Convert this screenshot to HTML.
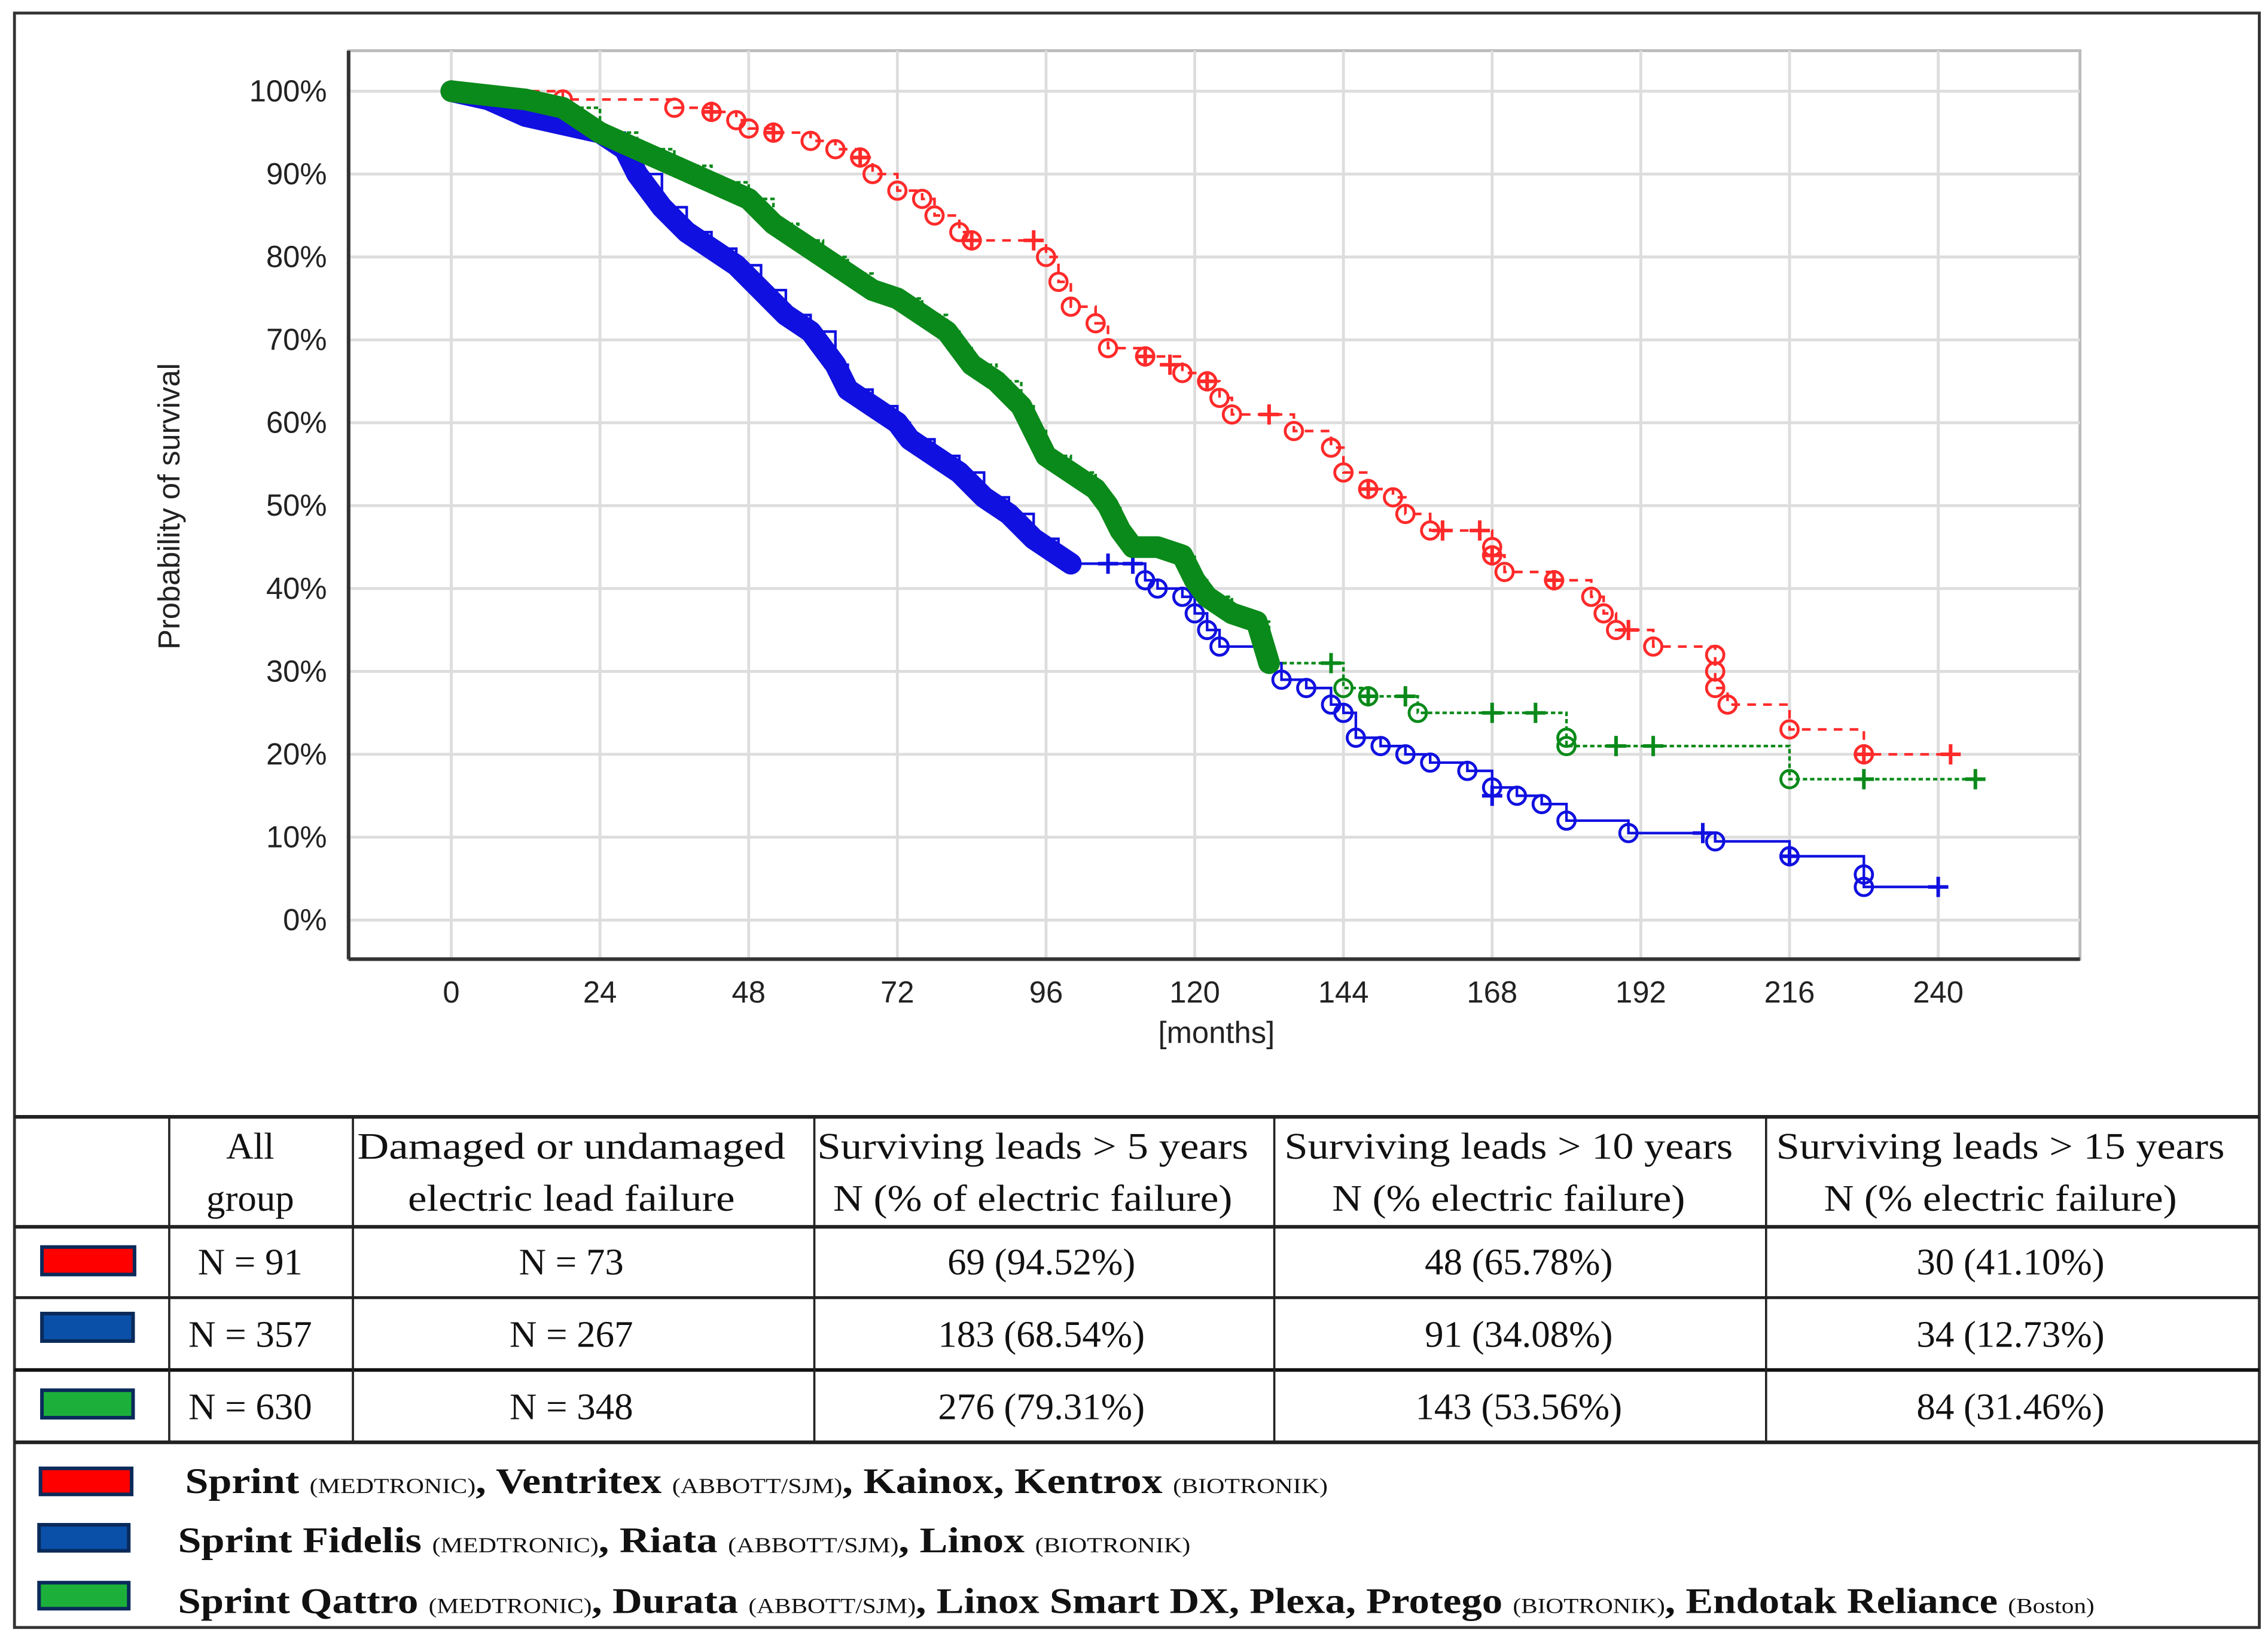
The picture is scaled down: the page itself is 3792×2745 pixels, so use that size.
<!DOCTYPE html>
<html><head><meta charset="utf-8"><style>
html,body{margin:0;padding:0;background:#fff;}
svg{display:block;}
.ax{font-family:"Liberation Sans",sans-serif;fill:#222;}
.tb{font-family:"Liberation Serif",serif;fill:#111;}
</style></head><body>
<svg id="fig" width="3792" height="2745" viewBox="0 0 1568 1135" xmlns="http://www.w3.org/2000/svg">
<rect x="0" y="0" width="1568" height="1135" fill="#fff"/>
<rect x="10" y="9" width="1552" height="1116" fill="none" stroke="#333" stroke-width="2"/>
<g id="grid"></g>
<g id="series"></g>
<g id="axes"></g>
<text class="ax" transform="translate(124,350) rotate(-90)" text-anchor="middle" font-size="21" textLength="198" lengthAdjust="spacingAndGlyphs">Probability of survival</text>
<text class="ax" x="841" y="721" text-anchor="middle" font-size="21">[months]</text>

<g>
<line x1="10" y1="772" x2="1562" y2="772" stroke="#222" stroke-width="2.5"/>
<line x1="10" y1="848" x2="1562" y2="848" stroke="#222" stroke-width="2.5"/>
<line x1="10" y1="897" x2="1562" y2="897" stroke="#222" stroke-width="2"/>
<line x1="10" y1="947" x2="1562" y2="947" stroke="#111" stroke-width="2.5"/>
<line x1="10" y1="997" x2="1562" y2="997" stroke="#222" stroke-width="2.5"/>
<line x1="117" y1="772" x2="117" y2="997" stroke="#222" stroke-width="1.5"/>
<line x1="244" y1="772" x2="244" y2="997" stroke="#222" stroke-width="1.5"/>
<line x1="563" y1="772" x2="563" y2="997" stroke="#222" stroke-width="1.5"/>
<line x1="881" y1="772" x2="881" y2="997" stroke="#222" stroke-width="1.5"/>
<line x1="1221" y1="772" x2="1221" y2="997" stroke="#222" stroke-width="1.5"/>
<g class="tb" font-size="26" text-anchor="middle">
<text x="173" y="801">All</text><text x="173" y="837">group</text>
<text x="395" y="801" textLength="296" lengthAdjust="spacingAndGlyphs">Damaged or undamaged</text><text x="395" y="837" textLength="226" lengthAdjust="spacingAndGlyphs">electric lead failure</text>
<text x="714" y="801" textLength="298" lengthAdjust="spacingAndGlyphs">Surviving leads &gt; 5 years</text><text x="714" y="837" textLength="276" lengthAdjust="spacingAndGlyphs">N (% of electric failure)</text>
<text x="1043" y="801" textLength="310" lengthAdjust="spacingAndGlyphs">Surviving leads &gt; 10 years</text><text x="1043" y="837" textLength="244" lengthAdjust="spacingAndGlyphs">N (% electric failure)</text>
<text x="1383" y="801" textLength="310" lengthAdjust="spacingAndGlyphs">Surviving leads &gt; 15 years</text><text x="1383" y="837" textLength="244" lengthAdjust="spacingAndGlyphs">N (% electric failure)</text>
<text x="173" y="881">N = 91</text><text x="395" y="881">N = 73</text><text x="720" y="881">69 (94.52%)</text><text x="1050" y="881">48 (65.78%)</text><text x="1390" y="881">30 (41.10%)</text>
<text x="173" y="931">N = 357</text><text x="395" y="931">N = 267</text><text x="720" y="931">183 (68.54%)</text><text x="1050" y="931">91 (34.08%)</text><text x="1390" y="931">34 (12.73%)</text>
<text x="173" y="981">N = 630</text><text x="395" y="981">N = 348</text><text x="720" y="981">276 (79.31%)</text><text x="1050" y="981">143 (53.56%)</text><text x="1390" y="981">84 (31.46%)</text>
</g>
<rect x="29" y="862" width="64" height="19" fill="#f00" stroke="#0a2a5a" stroke-width="2.5"/>
<rect x="29" y="908" width="63" height="19" fill="#0a50a8" stroke="#0a2a5a" stroke-width="2.5"/>
<rect x="29" y="961" width="63" height="19" fill="#1cb03a" stroke="#0a2a5a" stroke-width="2.5"/>
</g>

<g class="tb">
<rect x="28" y="1015" width="63" height="18" fill="#f00" stroke="#0a2a5a" stroke-width="2.5"/>
<rect x="27" y="1054" width="62" height="18" fill="#0a50a8" stroke="#0a2a5a" stroke-width="2.5"/>
<rect x="27" y="1094" width="62" height="18" fill="#1cb03a" stroke="#0a2a5a" stroke-width="2.5"/>
<text x="128" y="1032" font-size="25" font-weight="bold" textLength="790" lengthAdjust="spacingAndGlyphs">Sprint <tspan font-size="15" font-weight="normal">(MEDTRONIC)</tspan>, Ventritex <tspan font-size="15" font-weight="normal">(ABBOTT/SJM)</tspan>, Kainox, Kentrox <tspan font-size="15" font-weight="normal">(BIOTRONIK)</tspan></text>
<text x="123" y="1073" font-size="25" font-weight="bold" textLength="700" lengthAdjust="spacingAndGlyphs">Sprint Fidelis <tspan font-size="15" font-weight="normal">(MEDTRONIC)</tspan>, Riata <tspan font-size="15" font-weight="normal">(ABBOTT/SJM)</tspan>, Linox <tspan font-size="15" font-weight="normal">(BIOTRONIK)</tspan></text>
<text x="123" y="1115" font-size="25" font-weight="bold" textLength="1325" lengthAdjust="spacingAndGlyphs">Sprint Qattro <tspan font-size="15" font-weight="normal">(MEDTRONIC)</tspan>, Durata <tspan font-size="15" font-weight="normal">(ABBOTT/SJM)</tspan>, Linox Smart DX, Plexa, Protego <tspan font-size="15" font-weight="normal">(BIOTRONIK)</tspan>, Endotak Reliance <tspan font-size="15" font-weight="normal">(Boston)</tspan></text>
</g>
</svg>
<script>
const xTicks=[0,24,48,72,96,120,144,168,192,216,240];
const yTicks=[0,10,20,30,40,50,60,70,80,90,100];
const blueT=[0,6,12,18,24,28,30,34,38,42,46,50,54,58,62,64,68,72,74,78,82,86,90,94,98,100,110,112,114,118,120,122,124,128,132,134,138,142,144,146,150,154,158,164,168,172,176,180,190,204,216,228,228,240];
const blueS=[100,99,97,96,95,93,90,86,83,81,79,76,73,71,67,64,62,60,58,56,54,51,49,46,44,43,43,41,40,39,37,35,33,33,31,29,28,26,25,22,21,20,19,18,16,15,14,12,10.5,9.5,7.7,5.5,4,4];
const blueCensT=[106,110,168,202,216,240];
const blueCensS=[43,43,15,10.5,7.7,4];
const greenT=[0,12,18,24,30,36,42,48,52,56,60,64,68,72,76,80,82,84,88,92,94,96,100,104,106,108,110,114,118,120,122,126,130,132,142,144,148,156,156,168,176,180,180,216,216,246];
const greenS=[100,99,98,95,93,91,89,87,84,82,80,78,76,75,73,71,69,67,65,62,59,56,54,52,50,47,45,45,44,41,39,37,36,31,31,28,27,27,25,25,25,22,21,21,17,17];
const greenCensT=[142,148,154,168,175,188,194,228,246];
const greenCensS=[31,27,27,25,25,21,21,17,17];
const redT=[0,18,30,36,42,46,48,52,58,62,66,68,72,76,78,82,84,94,96,98,100,104,106,112,118,122,124,126,132,136,142,144,148,152,154,158,166,168,168,170,178,184,186,188,192,194,204,204,204,206,216,216,228,242];
const redS=[100,99,99,98,97.5,96.5,95.5,95,94,93,92,90,88,87,85,83,82,82,80,77,74,72,69,68,66,65,63,61,61,59,57,54,52,51,49,47,47,45,44,42,41,39,37,35,35,33,32,30,28,26,26,23,20,20];
const redCensT=[42,52,66,84,94,112,116,122,132,148,160,166,168,178,190,228,242];
const redCensS=[97.5,95,92,82,82,68,67,65,61,52,47,47,44,41,35,20,20];
const denseEndBlue=100, denseEndGreen=132;

const X0=312,X1=1340,Y0=636,Y1=63,L=241,R=1438,T=35,B=663;
const xs=t=>X0+(X1-X0)*t/240;
const ys=s=>Y0-(Y0-Y1)*s/100;
const NS='http://www.w3.org/2000/svg';
function mk(tag,attrs,parent){const e=document.createElementNS(NS,tag);for(const k in attrs)e.setAttribute(k,attrs[k]);parent.appendChild(e);return e;}
const grid=document.getElementById('grid'),axes=document.getElementById('axes'),ser=document.getElementById('series');
mk('rect',{x:L,y:T,width:R-L,height:B-T,fill:'none',stroke:'#bbb','stroke-width':2},grid);
xTicks.forEach(t=>{const g=mk('line',{x1:xs(t),x2:xs(t),y1:T,y2:B,stroke:'#ddd','stroke-width':2},grid);

const tx=mk('text',{x:xs(t),y:B+30,'text-anchor':'middle','font-size':21,class:'ax'},axes);tx.textContent=t;
});
yTicks.forEach(v=>{const g=mk('line',{x1:L,x2:R,y1:ys(v),y2:ys(v),stroke:'#ddd','stroke-width':2},grid);

const tx=mk('text',{x:226,y:ys(v)+7,'text-anchor':'end','font-size':21,class:'ax'},axes);tx.textContent=v+'%';
});
mk('line',{x1:L,x2:L,y1:T,y2:B,stroke:'#333','stroke-width':2.5},axes);
mk('line',{x1:L,x2:R,y1:B,y2:B,stroke:'#333','stroke-width':2.5},axes);

function stepPath(T_,S_){let d='M'+xs(T_[0])+','+ys(S_[0]);
for(let i=1;i<T_.length;i++){d+=' H'+xs(T_[i])+' V'+ys(S_[i]);}return d;}
function linePath(T_,S_,end){let d='M'+xs(T_[0])+','+ys(S_[0]);
for(let i=1;i<T_.length;i++){if(T_[i]>end)break;d+=' L'+xs(T_[i])+','+ys(S_[i]);}return d;}
function series(name,T_,S_,CT,CS,color,dash,denseEnd){
const g=mk('g',{},ser);


const p=mk('path',{d:stepPath(T_,S_),fill:'none',stroke:color,'stroke-width':1.8,'stroke-dasharray':dash},g);


if(denseEnd!==undefined){const q=mk('path',{d:linePath(T_,S_,denseEnd),fill:'none',stroke:color,'stroke-width':15,'stroke-linejoin':'round','stroke-linecap':'round'},g);

}
for(let i=1;i<T_.length;i++){if(S_[i]===S_[i-1])continue;if(denseEnd!==undefined&&T_[i]<denseEnd)continue;
const c=mk('circle',{cx:xs(T_[i]),cy:ys(S_[i]),r:6,fill:'none',stroke:color,'stroke-width':2},g);

}
for(let i=0;i<CT.length;i++){const x=xs(CT[i]),y=ys(CS[i]);
const c=mk('path',{d:`M${x-7},${y} H${x+7} M${x},${y-7} V${y+7}`,stroke:color,'stroke-width':2.5},g);

}}
series('red',redT,redS,redCensT,redCensS,'#ff2a2a','6,5');
series('blue',blueT,blueS,blueCensT,blueCensS,'#1010e0','',denseEndBlue);
series('green',greenT,greenS,greenCensT,greenCensS,'#0a8a1a','3,2',denseEndGreen);
</script>
</body></html>
